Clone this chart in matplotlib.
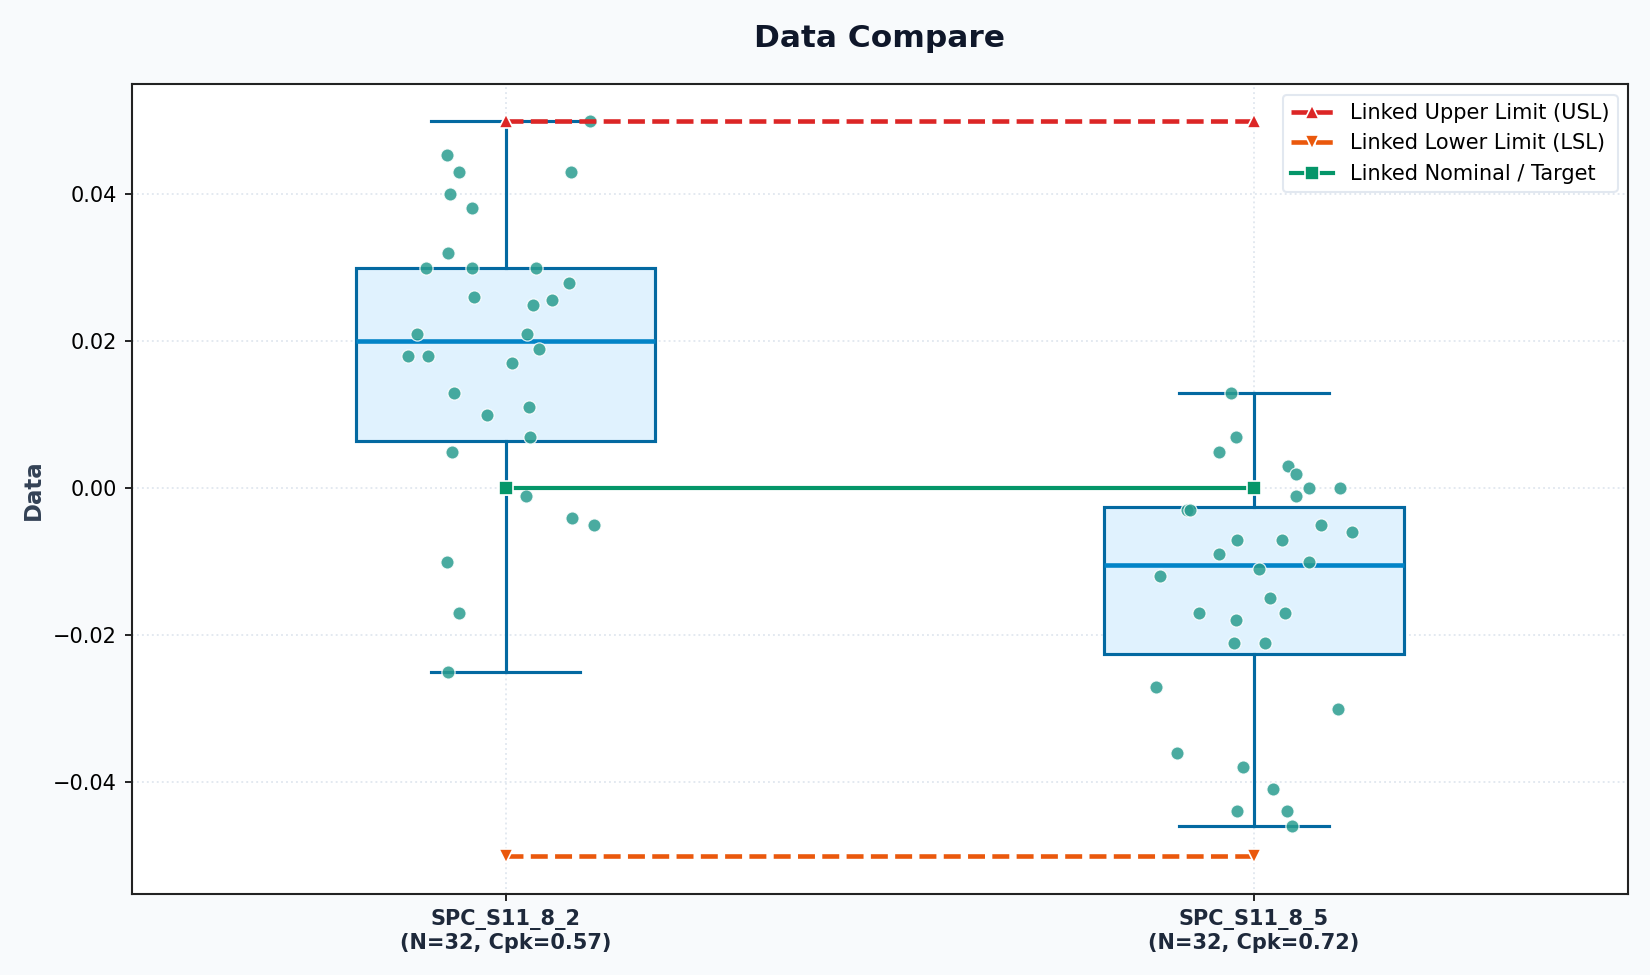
import numpy as np
import matplotlib.pyplot as plt

# groups and labels
groups = ['SPC_S11_8_2', 'SPC_S11_8_5']
n_values = [32, 32]
cpk_values = [0.57, 0.72]

# spec limits (same for both groups)
usl = [0.05, 0.05]
lsl = [-0.05, -0.05]
nominal = [0.0, 0.0]

data_g1 = [0.0454, 0.0431, 0.0401, 0.0381, 0.050, 0.0431, 0.032, 0.030, 0.030, 0.030,
           0.026, 0.025, 0.0256, 0.028, 0.021, 0.021, 0.018, 0.018, 0.019, 0.017,
           0.013, 0.010, 0.011, 0.007, 0.005, -0.001, -0.004, -0.005, -0.010, -0.017,
           -0.025, 0.0]
data_g2 = [0.013, 0.007, 0.005, 0.003, 0.002, 0.0, 0.0, -0.001, -0.003, -0.003,
           -0.005, -0.006, -0.007, -0.007, -0.009, -0.010, -0.011, -0.012, -0.015, -0.017,
           -0.017, -0.018, -0.021, -0.021, -0.027, -0.030, -0.036, -0.038, -0.041, -0.044,
           -0.044, -0.046]

# horizontal jitter of the strip points
jitter_g1 = [-0.079, -0.062, -0.075, -0.045, 0.113, 0.087, -0.077, -0.106, -0.045, 0.041,
             -0.042, 0.037, 0.062, 0.085, -0.118, 0.028, -0.131, -0.104, 0.045, 0.008,
             -0.069, -0.025, 0.031, 0.032, -0.072, 0.027, 0.089, 0.118, -0.079, -0.063,
             -0.077, 0.0]
jitter_g2 = [-0.030, -0.024, -0.046, 0.046, 0.056, 0.073, 0.115, 0.056, -0.089, -0.085,
             0.089, 0.131, -0.023, 0.037, -0.046, 0.073, 0.007, -0.125, 0.021, -0.073,
             0.041, -0.024, -0.027, 0.015, -0.131, 0.113, -0.103, -0.015, 0.025, -0.023,
             0.044, 0.051]

BG = '#f8fafc'
BOX_EDGE = '#0369a1'
MEDIAN = '#0284c7'
BOX_FACE = '#e0f2fe'
POINT = '#2a9d8f'

fig = plt.figure(figsize=(11, 6.5), dpi=150, facecolor=BG)
ax = fig.add_axes([0.0797, 0.0826, 0.907, 0.831])
ax.set_facecolor('white')

positions = np.arange(len(groups))
bp = ax.boxplot([data_g1, data_g2], positions=positions, widths=0.4, patch_artist=True,
                whis=1.5, showfliers=False, zorder=2)
for box in bp['boxes']:
    box.set_facecolor(BOX_FACE)
    box.set_edgecolor(BOX_EDGE)
    box.set_linewidth(1.5)
for w in bp['whiskers']:
    w.set_color(BOX_EDGE)
    w.set_linewidth(1.5)
for c in bp['caps']:
    c.set_color(BOX_EDGE)
    c.set_linewidth(1.5)
for m in bp['medians']:
    m.set_color(MEDIAN)
    m.set_linewidth(2.2)

# strip points
for pos, vals, jit in zip(positions, [data_g1, data_g2], [jitter_g1, jitter_g2]):
    ax.scatter(pos + np.array(jit), vals, s=40, color=POINT, alpha=0.85,
               edgecolor='white', linewidth=0.6, zorder=3)

# linked spec lines
ax.plot(positions, usl, color='#dc2626', linestyle='--', linewidth=2.2, marker='^',
        markersize=7, markeredgecolor='white', markeredgewidth=0.8,
        label='Linked Upper Limit (USL)', zorder=4)
ax.plot(positions, lsl, color='#ea580c', linestyle='--', linewidth=2.2, marker='v',
        markersize=7, markeredgecolor='white', markeredgewidth=0.8,
        label='Linked Lower Limit (LSL)', zorder=4)
ax.plot(positions, nominal, color='#059669', linestyle='-', linewidth=2.0, marker='s',
        markersize=6.5, markeredgecolor='white', markeredgewidth=0.8,
        label='Linked Nominal / Target', zorder=4)

ax.set_xlim(-0.5, 1.5)
ax.set_ylim(-0.0553, 0.055)
ax.set_yticks([-0.04, -0.02, 0.0, 0.02, 0.04])
ax.set_xticks(positions)
ax.set_xticklabels([f'{g}\n(N={n}, Cpk={c:.2f})' for g, n, c in zip(groups, n_values, cpk_values)],
                   fontweight='bold', color='#1e293b', fontsize=10)
ax.grid(True, linestyle=':', color='#e2e8f0', linewidth=0.9, zorder=0)
ax.set_axisbelow(True)
for s in ax.spines.values():
    s.set_color('#222222')
    s.set_linewidth(1.0)

ax.set_ylabel('Data', fontweight='bold', color='#334155', fontsize=11)
ax.set_title('Data Compare', fontsize=15, fontweight='bold', color='#0f172a', pad=18)

leg = ax.legend(loc='upper right', fontsize=10, frameon=True, framealpha=1.0,
                edgecolor='#e2e8f0', fancybox=True)

fig.savefig('out.png', dpi=150, facecolor=BG)
